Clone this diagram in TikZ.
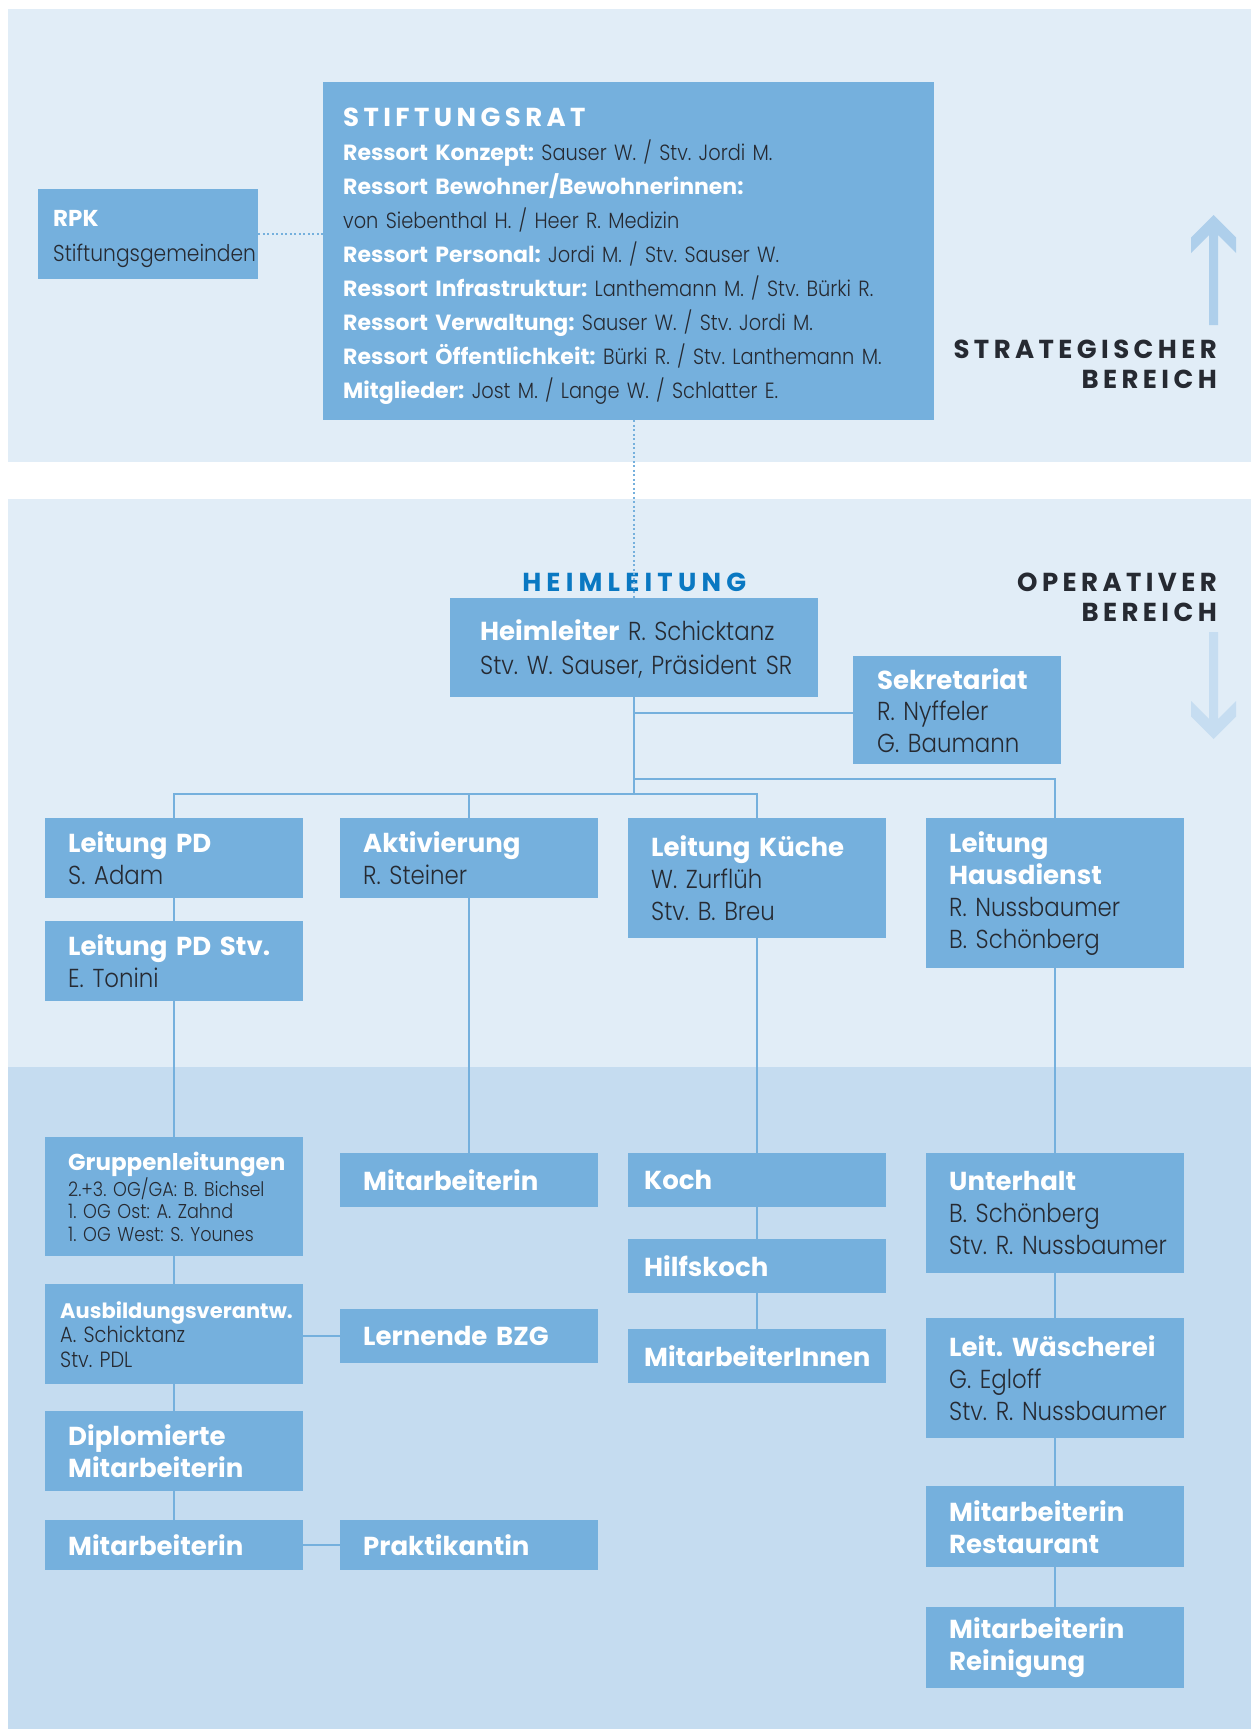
\documentclass[tikz,border=0pt]{standalone}
\usepackage{fontspec}
\setmainfont{Poppins}[UprightFont=* Light, BoldFont=* Bold, UprightFeatures={FakeStretch=0.88}]
\usetikzlibrary{positioning}

\definecolor{boxblue}{RGB}{117,176,221}
\definecolor{bandtop}{RGB}{225,237,247}
\definecolor{bandlow}{RGB}{197,220,240}
\definecolor{inkdark}{RGB}{38,42,50}
\definecolor{headblue}{RGB}{10,120,194}
\definecolor{arrowup}{RGB}{174,207,235}
\definecolor{arrowdown}{RGB}{198,221,241}

\newcommand{\hd}[1]{{\bfseries\color{white}#1}}
\frenchspacing

\begin{document}
\begin{tikzpicture}[x=1pt,y=-1pt,
  lead/.style={execute at begin node={\leftskip=#1\relax}},
  orgbox/.style={fill=boxblue, anchor=north west, inner ysep=0pt, inner xsep=12pt,
    text width=234pt, lead=11pt, align=left, text=inkdark, font=\fontsize{26}{32}\selectfont},
  kitchen/.style={orgbox, lead=4pt, minimum height=54pt},
  link/.style={draw=boxblue, line width=2.5pt},
  dots/.style={draw=boxblue, line width=2pt, dash pattern=on 2pt off 2.5pt},
  zone/.style={font=\bfseries\fontsize{26}{30}\selectfont\addfontfeature{LetterSpace=17},
    align=right, text=inkdark, inner sep=0pt, anchor=east}]
  \useasboundingbox (0,0) rectangle (1251,1729);
  % bands
  \fill[bandtop] (8,9) rectangle (1251,462);
  \fill[bandtop] (8,499) rectangle (1251,1067);
  \fill[bandlow] (8,1067) rectangle (1251,1729);
  % arrows
  \fill[arrowup] (1213.5,215) -- (1236,237.5) -- (1236,253) -- (1218,235) -- (1218,325)
    -- (1209,325) -- (1209,235) -- (1191,253) -- (1191,237.5) -- cycle;
  \fill[arrowdown] (1213.5,739) -- (1191,716.5) -- (1191,701) -- (1209,719) -- (1209,632)
    -- (1218,632) -- (1218,719) -- (1236,701) -- (1236,716.5) -- cycle;
  \node[zone] (strat) at (1217,364) {STRATEGISCHER\\BEREICH};
  \node[zone] (oper) at (1217,597) {OPERATIVER\\BEREICH};

  % strategic part
  \node[orgbox, minimum height=338pt, text width=587pt, lead=8pt,
    font=\fontsize{22}{34}\selectfont] (rat) at (323,82)
    {\rule{0pt}{28pt}\hd{\fontsize{26}{34}\selectfont\addfontfeature{LetterSpace=17}STIFTUNGSRAT}\\
     \hd{Ressort Konzept:} Sauser W. / Stv. Jordi M.\\
     \hd{Ressort Bewohner/Bewohnerinnen:}\\
     von Siebenthal H. / Heer R. Medizin\\
     \hd{Ressort Personal:} Jordi M. / Stv. Sauser W.\\
     \hd{Ressort Infrastruktur:} Lanthemann M. / Stv. Bürki R.\\
     \hd{Ressort Verwaltung:} Sauser W. / Stv. Jordi M.\\
     \hd{Ressort Öffentlichkeit:} Bürki R. / Stv. Lanthemann M.\\
     \hd{Mitglieder:} Jost M. / Lange W. / Schlatter E.};
  \node[orgbox, minimum height=90pt, inner xsep=8pt, text width=204pt, lead=7pt,
    font=\fontsize{23}{35}\selectfont] (rpk) at (38,189)
    {\rule{0pt}{25pt}\hd{RPK}\\Stiftungsgemeinden};

  % operative part
  \node[orgbox, minimum height=99pt, inner xsep=8pt, text width=352pt, lead=22pt,
    font=\fontsize{26}{34}\selectfont] (heim) at (450,598)
    {\rule{0pt}{24pt}\hd{Heimleiter} R. Schicktanz\\Stv. W. Sauser, Präsident SR};
  \node[above=6pt of heim, inner sep=0pt, text=headblue,
    font=\bfseries\fontsize{26}{30}\selectfont\addfontfeature{LetterSpace=20}] (hltitle) {HEIMLEITUNG};
  \node[orgbox, minimum height=108pt, inner xsep=8pt, text width=192pt, lead=16pt,
    font=\fontsize{26}{31.5}\selectfont] (sek) at (853,656) {\hd{Sekretariat}\\R. Nyffeler\\G. Baumann};

  \node[orgbox, minimum height=80pt] (pd) at (45,818) {\hd{Leitung PD}\\S. Adam};
  \node[orgbox, minimum height=80pt] (pdstv) at (45,921) {\hd{Leitung PD Stv.}\\E. Tonini};
  \node[orgbox, minimum height=119pt, font=\fontsize{20}{22.5}\selectfont] (grp) at (45,1137)
    {\hd{\fontsize{23}{22.5}\selectfont Gruppenleitungen}\\2.+3. OG/GA: B. Bichsel\\1. OG Ost: A. Zahnd\\1. OG West: S. Younes};
  \node[orgbox, minimum height=100pt, lead=3pt, font=\fontsize{22}{24.5}\selectfont] (ausb) at (45,1284)
    {\hd{\fontsize{21}{24.5}\selectfont Ausbildungsverantw.}\\A. Schicktanz\\Stv. PDL};
  \node[orgbox, minimum height=80pt] (dipl) at (45,1411) {\hd{Diplomierte}\\\hd{Mitarbeiterin}};
  \node[orgbox, minimum height=50pt] (mit2) at (45,1520) {\hd{Mitarbeiterin}};

  \node[orgbox, minimum height=80pt] (akt) at (340,818) {\hd{Aktivierung}\\R. Steiner};
  \node[orgbox, minimum height=54pt] (mit1) at (340,1153) {\hd{Mitarbeiterin}};
  \node[orgbox, minimum height=54pt] (lern) at (340,1309) {\hd{Lernende BZG}};
  \node[orgbox, minimum height=50pt] (prak) at (340,1520) {\hd{Praktikantin}};

  \node[orgbox, minimum height=120pt] (kue) at (628,818) {\hd{Leitung Küche}\\W. Zurflüh\\Stv. B. Breu};
  \node[kitchen] (koch) at (628,1153) {\hd{Koch}};
  \node[kitchen] (hilf) at (628,1239) {\hd{Hilfskoch}};
  \node[kitchen] (mitinn) at (628,1329) {\hd{MitarbeiterInnen}};

  \node[orgbox, minimum height=150pt] (haus) at (926,818)
    {\hd{Leitung}\\\hd{Hausdienst}\\R. Nussbaumer\\B. Schönberg};
  \node[orgbox, minimum height=120pt] (unt) at (926,1153) {\hd{Unterhalt}\\B. Schönberg\\Stv. R. Nussbaumer};
  \node[orgbox, minimum height=120pt] (wae) at (926,1318) {\hd{Leit. Wäscherei}\\G. Egloff\\Stv. R. Nussbaumer};
  \node[orgbox, minimum height=81pt] (rest) at (926,1486) {\hd{Mitarbeiterin}\\\hd{Restaurant}};
  \node[orgbox, minimum height=81pt] (rein) at (926,1607) {\hd{Mitarbeiterin}\\\hd{Reinigung}};

  % connectors
  \coordinate (busA) at (0,794);
  \coordinate (busB) at (0,779);
  \coordinate (sekline) at (0,713);
  \draw[link] (heim.south) -- (heim.south |- busA);
  \draw[link] (pd.north) |- (busA -| kue.north) -- (kue.north);
  \draw[link] (akt.north) -- (akt.north |- busA);
  \draw[link] (busB -| heim.south) -| (haus.north);
  \draw[link] (sekline -| heim.south) -- (sekline -| sek.west);
  \path[link] (pd) edge (pdstv) (pdstv) edge (grp) (grp) edge (ausb)
    (ausb) edge (dipl) (dipl) edge (mit2) (mit2) edge (prak)
    (akt) edge (mit1)
    (kue) edge (koch) (koch) edge (hilf) (hilf) edge (mitinn)
    (haus) edge (unt) (unt) edge (wae) (wae) edge (rest) (rest) edge (rein);
  \draw[link] (lern.west) -- (lern.west -| ausb.east);
  \draw[dots] (rpk.east) -- (rpk.east -| rat.west);
  \draw[dots] (rat.south -| heim.north) -- (heim.north);
\end{tikzpicture}
\end{document}
